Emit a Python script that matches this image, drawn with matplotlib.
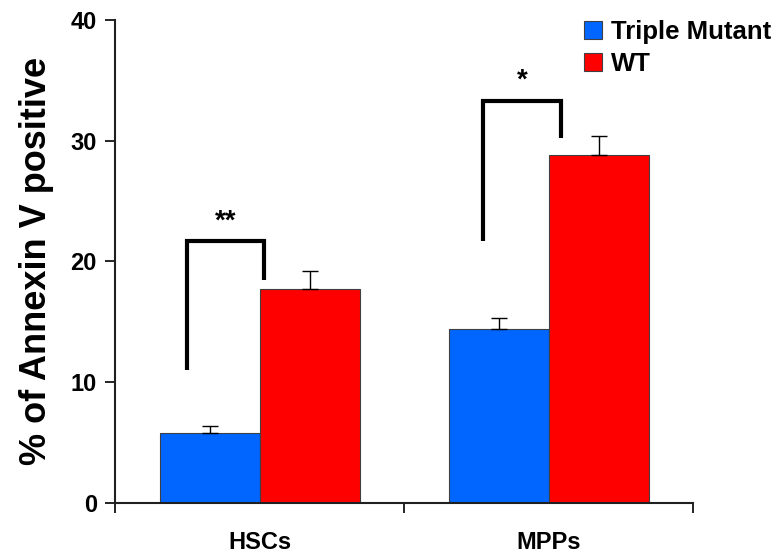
import numpy as np
import matplotlib
matplotlib.use('Agg')
import matplotlib.pyplot as plt
from matplotlib.ticker import FixedLocator

plt.rcParams['font.family'] = ['Liberation Sans', 'DejaVu Sans']

# data
groups = ['HSCs', 'MPPs']
series = ['Triple Mutant', 'WT']
mutant = [5.8, 14.4]
mutant_err = [0.6, 0.9]
wt = [17.7, 28.8]
wt_err = [1.5, 1.6]
colors = ['#0066FF', '#FF0000']

# significance brackets: (x_left, x_right, y_left_bottom, y_top, y_right_bottom, label)
brackets = [(-0.252, 0.015, 11.0, 21.65, 18.5, '**'),
            (0.774, 1.043, 21.65, 33.3, 30.2, '*')]

fig = plt.figure(figsize=(7.77, 5.55), dpi=100)
ax = fig.add_axes([0.148, 0.094, 0.744, 0.870])

x = np.arange(len(groups))
w = 0.346
err_kw = dict(elinewidth=1, capsize=6, capthick=1, ecolor='black')
ax.bar(x - w / 2, mutant, w, color=colors[0], edgecolor='#404040', linewidth=0.8,
       yerr=[np.zeros(2), mutant_err], error_kw=err_kw, label=series[0])
ax.bar(x + w / 2, wt, w, color=colors[1], edgecolor='#404040', linewidth=0.8,
       yerr=[np.zeros(2), wt_err], error_kw=err_kw, label=series[1])

for xl, xr, yl, yt, yr, lab in brackets:
    ax.plot([xl, xl, xr, xr], [yl, yt, yt, yr], color='black', lw=3,
            solid_joinstyle='miter', solid_capstyle='butt')
    ax.text((xl + xr) / 2, yt + 0.6, lab, ha='center', va='bottom',
            fontsize=20, fontweight='bold')

ax.set_xlim(-0.5, 1.5)
ax.set_ylim(0, 40)
ax.set_yticks([0, 10, 20, 30, 40])
ax.set_xticks(x)
ax.set_xticklabels(groups, fontsize=17, fontweight='bold')
ax.xaxis.set_minor_locator(FixedLocator([-0.5, 0.5, 1.5]))
ax.tick_params(axis='x', which='major', length=0, pad=20)
ax.tick_params(axis='x', which='minor', length=7, width=1.2, direction='out')
ax.tick_params(axis='y', length=7, width=1.2, direction='out', labelsize=17, pad=6)
for t in ax.get_yticklabels():
    t.set_fontweight('bold')

ax.spines['top'].set_visible(False)
ax.spines['right'].set_visible(False)
for s in ['left', 'bottom']:
    ax.spines[s].set_linewidth(1.5)
    ax.spines[s].set_color('#202020')

ax.set_ylabel('% of Annexin V positive', fontsize=26, fontweight='bold', labelpad=12)

ax.legend(loc='upper left', bbox_to_anchor=(0.752, 0.964), bbox_transform=fig.transFigure,
          frameon=False, prop={'weight': 'bold', 'size': 18.5},
          handlelength=0.7, handleheight=0.7, handletextpad=0.35,
          labelspacing=0.3, borderpad=0, borderaxespad=0)

fig.savefig('out.png', dpi=100)
